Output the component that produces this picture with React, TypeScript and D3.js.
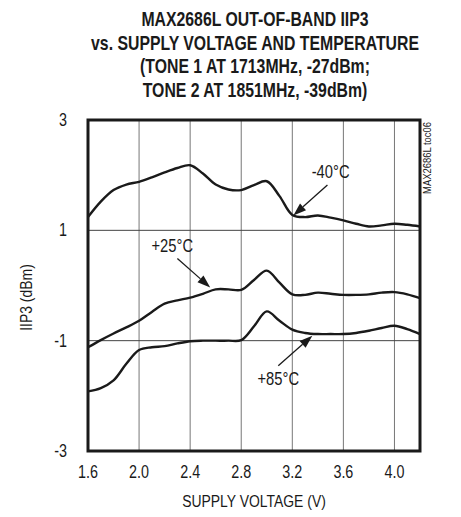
import React from "react";
import * as d3 from "d3";

const titleLines = [
  "MAX2686L OUT-OF-BAND IIP3",
  "vs. SUPPLY VOLTAGE AND TEMPERATURE",
  "(TONE 1 AT 1713MHz, -27dBm;",
  "TONE 2 AT 1851MHz, -39dBm)",
];
const xLabel = "SUPPLY VOLTAGE (V)";
const yLabel = "IIP3 (dBm)";
const sideNote = "MAX2686L toc06";

const xTicks = [1.6, 2.0, 2.4, 2.8, 3.2, 3.6, 4.0];
const yTicks = [3, 1, -1, -3];

const voltage = [
  1.6, 1.7, 1.8, 1.9, 2.0, 2.1, 2.2, 2.3, 2.4, 2.5, 2.6, 2.7, 2.8, 2.9, 3.0,
  3.1, 3.2, 3.3, 3.4, 3.5, 3.6, 3.7, 3.8, 3.9, 4.0, 4.1, 4.2,
];
const iip3Minus40 = [
  1.24, 1.52, 1.73, 1.83, 1.88, 1.96, 2.05, 2.13, 2.18, 2.03, 1.83, 1.74, 1.73,
  1.82, 1.89, 1.62, 1.28, 1.24, 1.27, 1.23, 1.18, 1.12, 1.07, 1.09, 1.12, 1.1,
  1.07,
];
const iip3Plus25 = [
  -1.12, -0.99, -0.87, -0.76, -0.64, -0.48, -0.33, -0.27, -0.22, -0.15, -0.07,
  -0.07, -0.08, 0.1, 0.27, 0.05, -0.16, -0.17, -0.13, -0.15, -0.17, -0.17,
  -0.16, -0.13, -0.12, -0.16, -0.23,
];
const iip3Plus85 = [
  -1.92, -1.86, -1.72, -1.42, -1.17, -1.12, -1.1, -1.05, -1.01, -1.0, -1.0,
  -1.0, -0.99, -0.74, -0.47, -0.64, -0.8, -0.86, -0.88, -0.88, -0.88, -0.86,
  -0.82, -0.77, -0.73, -0.79, -0.88,
];
const seriesList = [iip3Minus40, iip3Plus25, iip3Plus85];

// annotations in data coordinates: label position, arrow start, arrow tip
const annotLabels = ["-40°C", "+25°C", "+85°C"];
const annotText = [
  [3.5, 1.945],
  [2.26, 0.6],
  [3.09, -1.8],
];
const annotFrom = [
  [3.475, 1.82],
  [2.3, 0.49],
  [3.09, -1.455],
];
const annotTo = [
  [3.208, 1.27],
  [2.557, -0.036],
  [3.357, -0.91],
];

const W = 461;
const H = 517;
const M = { left: 88, right: 420, top: 120, bottom: 451 };
const SQ = 0.82; // horizontal condensing to mimic a narrow face

export default function App() {
  const x = d3.scaleLinear().domain([1.6, 4.2]).range([M.left, M.right]);
  const y = d3.scaleLinear().domain([-3, 3]).range([M.bottom, M.top]);
  const line = d3
    .line<number>()
    .x((_, i) => x(voltage[i]))
    .y((d) => y(d))
    .curve(d3.curveCatmullRom.alpha(0.5));

  const font = "'Liberation Sans', Arial, sans-serif";
  const cx = (M.left + M.right) / 2;

  const T = (
    key: string,
    tx: number,
    ty: number,
    s: string,
    size: number,
    anchor: string,
    opts: { bold?: boolean; rotate?: number } = {}
  ) => (
    <text
      key={key}
      transform={`translate(${tx},${ty})${opts.rotate ? ` rotate(${opts.rotate})` : ""} scale(${SQ},1)`}
      textAnchor={anchor}
      fontFamily={font}
      fontWeight={opts.bold ? "bold" : "normal"}
      fontSize={size}
      fill="#1a1a1a"
    >
      {s}
    </text>
  );

  const arrow = (i: number) => {
    const [fx, fy] = [x(annotFrom[i][0]), y(annotFrom[i][1])];
    const [tx, ty] = [x(annotTo[i][0]), y(annotTo[i][1])];
    const ang = Math.atan2(ty - fy, tx - fx);
    const L = 13;
    const hw = 4.5;
    const bx = tx - L * Math.cos(ang);
    const by = ty - L * Math.sin(ang);
    const px = -Math.sin(ang) * hw;
    const py = Math.cos(ang) * hw;
    return (
      <g key={"a" + i}>
        <line x1={fx} y1={fy} x2={bx} y2={by} stroke="#1a1a1a" strokeWidth={1.3} />
        <polygon
          points={`${tx},${ty} ${bx + px},${by + py} ${bx - px},${by - py}`}
          fill="#1a1a1a"
        />
      </g>
    );
  };

  return (
    <svg
      width={W}
      height={H}
      style={{ position: "absolute", left: 0, top: 0, background: "#fff" }}
    >
      <rect x={0} y={0} width={W} height={H} fill="#fff" />
      {titleLines.map((t, i) =>
        T("t" + i, cx + 1, 26 + i * 23.5, t, 19.3, "middle", { bold: true })
      )}
      {/* vertical grid */}
      {xTicks.slice(1).map((v) => (
        <line
          key={"gx" + v}
          x1={x(v)}
          x2={x(v)}
          y1={M.top}
          y2={M.bottom}
          stroke="#777"
          strokeWidth={1}
        />
      ))}
      {/* horizontal grid */}
      {yTicks.slice(1, -1).map((v) => (
        <line
          key={"gy" + v}
          x1={M.left}
          x2={M.right}
          y1={y(v)}
          y2={y(v)}
          stroke="#444"
          strokeWidth={1}
        />
      ))}
      {seriesList.map((s, i) => (
        <path
          key={"s" + i}
          d={line(s) || ""}
          fill="none"
          stroke="#1a1a1a"
          strokeWidth={2.4}
        />
      ))}
      <rect
        x={M.left}
        y={M.top}
        width={M.right - M.left}
        height={M.bottom - M.top}
        fill="none"
        stroke="#1a1a1a"
        strokeWidth={3}
      />
      {xTicks.map((v) => T("tx" + v, x(v), 478, v.toFixed(1), 17.5, "middle"))}
      {yTicks.map((v) => T("ty" + v, 67, y(v) + 6, String(v), 17.5, "end"))}
      {T("xl", cx, 507, xLabel, 17, "middle")}
      {T("yl", 32, (M.top + M.bottom) / 2 + 12, yLabel, 17, "middle", { rotate: -90 })}
      {T("sn", 431, M.top + 2, sideNote, 11.5, "end", { rotate: -90 })}
      {annotLabels.map((t, i) =>
        T("an" + i, x(annotText[i][0]), y(annotText[i][1]), t, 18, "middle")
      )}
      {annotLabels.map((_, i) => arrow(i))}
    </svg>
  );
}
